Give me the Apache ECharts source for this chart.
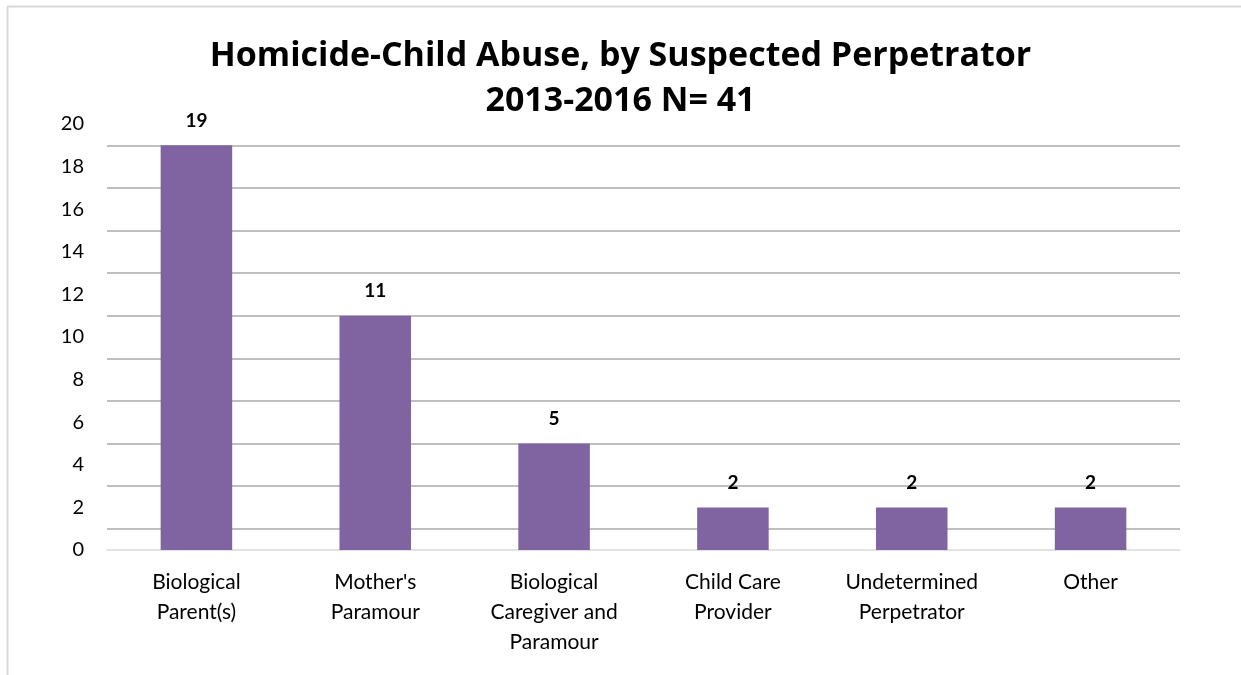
<!DOCTYPE html>
<html>
<head>
<meta charset="utf-8">
<script src="https://cdn.jsdelivr.net/npm/echarts@6/dist/echarts.min.js"></script>
<style>
  html, body { margin: 0; padding: 0; background: #fff; }
  #chart { width: 1241px; height: 675px; }
</style>
</head>
<body>
<div id="chart"></div>
<script>
// Suspected perpetrator categories and case counts
const categories = [
  'Biological\nParent(s)',
  "Mother's\nParamour",
  'Biological\nCaregiver and\nParamour',
  'Child Care\nProvider',
  'Undetermined\nPerpetrator',
  'Other'
];
const counts = [19, 11, 5, 2, 2, 2];

// Axis scale and the horizontal guide lines (drawn at odd values between labels)
const yMin = 0;
const yMax = 20;
const yStep = 2;
const guideValues = [1, 3, 5, 7, 9, 11, 13, 15, 17, 19];

const titleLines = ['Homicide-Child Abuse, by Suspected Perpetrator', '2013-2016 N= 41'];

const chart = echarts.init(document.getElementById('chart'), null, { renderer: 'canvas' });

const bodyFont = 'Lato, "Open Sans", sans-serif';

chart.setOption({
  backgroundColor: '#ffffff',
  animation: false,
  title: {
    text: titleLines.join('\n'),
    left: 'center',
    top: 29,
    textStyle: {
      fontFamily: '"Open Sans", Lato, sans-serif',
      fontWeight: 'bold',
      fontSize: 34,
      lineHeight: 45,
      color: '#000000',
      align: 'center'
    }
  },
  graphic: [
    {
      type: 'line',
      shape: { x1: 7.5, y1: 7, x2: 7.5, y2: 675 },
      style: { stroke: '#d9d9d9', lineWidth: 2 },
      silent: true
    },
    {
      type: 'line',
      shape: { x1: 7, y1: 6.5, x2: 1241, y2: 6.5 },
      style: { stroke: '#d9d9d9', lineWidth: 2 },
      silent: true
    }
  ],
  grid: {
    left: 107,
    right: 61,
    top: 124,
    bottom: 125,
    containLabel: false
  },
  xAxis: {
    type: 'category',
    data: categories,
    axisLine: { show: true, lineStyle: { color: '#d9d9d9', width: 1.5 } },
    axisTick: { show: false },
    axisLabel: {
      interval: 0,
      margin: 17,
      fontFamily: bodyFont,
      fontSize: 21,
      lineHeight: 30,
      color: '#000000',
      align: 'center'
    }
  },
  yAxis: {
    type: 'value',
    min: yMin,
    max: yMax,
    interval: yStep,
    axisLine: { show: false },
    axisTick: { show: false },
    splitLine: { show: false },
    axisLabel: {
      margin: 23,
      fontFamily: bodyFont,
      fontSize: 20,
      color: '#000000'
    }
  },
  series: [
    {
      type: 'bar',
      data: counts,
      barWidth: '40%',
      itemStyle: { color: '#8064a2' },
      label: {
        show: true,
        position: 'top',
        distance: 15,
        fontFamily: bodyFont,
        fontWeight: 'bold',
        fontSize: 19,
        color: '#000000'
      },
      markLine: {
        silent: true,
        symbol: 'none',
        label: { show: false },
        z: 1,
        lineStyle: { color: '#bfbfbf', width: 2, type: 'solid' },
        data: guideValues.map(v => ({ yAxis: v }))
      },
      z: 2
    }
  ]
});
</script>
</body>
</html>
